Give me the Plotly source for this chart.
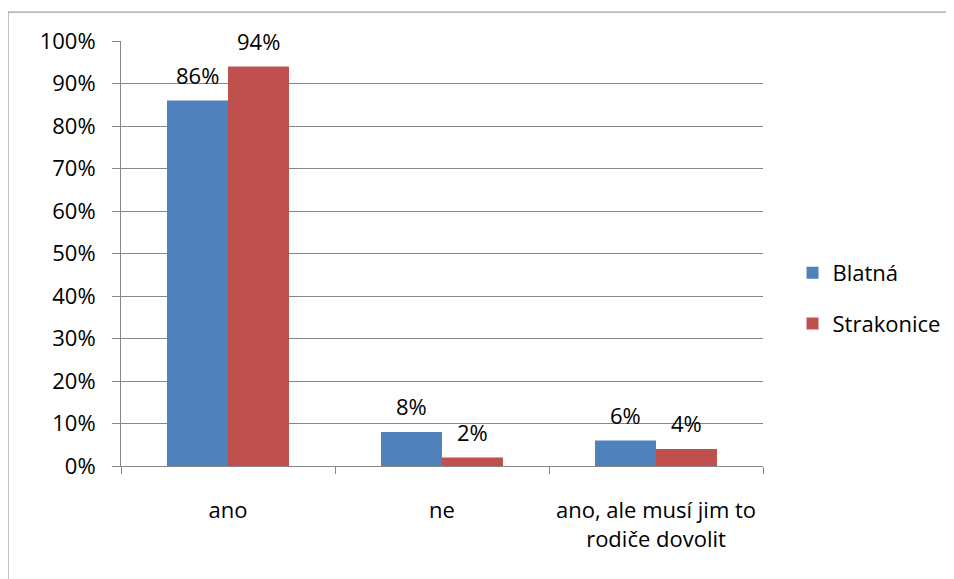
import plotly.graph_objects as go

categories = ["ano", "ne", "ano, ale musí jim to<br>rodiče dovolit"]
blatna = [0.86, 0.08, 0.06]
strakonice = [0.94, 0.02, 0.04]
blatna_labels = ["86%", "8%", "6%"]
strakonice_labels = ["94%", "2%", "4%"]

font_family = "Open Sans, sans-serif"

fig = go.Figure()
fig.add_trace(go.Bar(x=categories, y=blatna, name="Blatná", marker_color="#4F81BD",
                     legendgroup="b", marker_line_width=0))
fig.add_trace(go.Bar(x=categories, y=strakonice, name="Strakonice", marker_color="#C0504D",
                     legendgroup="s", marker_line_width=0))

# data labels above the bars
for vals, labels, shift in [(blatna, blatna_labels, -30.5), (strakonice, strakonice_labels, 30.5)]:
    for cat, v, lab in zip(categories, vals, labels):
        fig.add_annotation(x=cat, y=v, text=lab, showarrow=False, xshift=shift, yshift=26,
                           yanchor="middle", font=dict(size=22, color="#000000"))

fig.update_layout(
    width=946, height=571,
    margin=dict(l=113, r=191, t=33, b=113, autoexpand=False),
    paper_bgcolor="white", plot_bgcolor="white",
    font=dict(family=font_family, size=22, color="#000000"),
    barmode="group", bargap=0.43, bargroupgap=0,
    legend=dict(x=1.046, y=0.394, xanchor="left", yanchor="middle",
                font=dict(size=22), tracegroupgap=19, itemsizing="constant"),
    shapes=[dict(type="rect", xref="paper", yref="paper", x0=-0.176, y0=-0.4, x1=1.4, y1=1.068,
                 line=dict(color="#868686", width=1))],
)
fig.update_xaxes(showline=True, linecolor="#868686", linewidth=1, ticks="outside",
                 tickson="boundaries", ticklen=7, tickcolor="#868686", showgrid=False,
                 ticklabelstandoff=25)
fig.update_yaxes(range=[0, 1], dtick=0.1, tickformat=".0%", showline=True, linecolor="#868686",
                 linewidth=1, ticks="outside", ticklen=8, tickcolor="#868686",
                 showgrid=True, gridcolor="#868686", gridwidth=1, zeroline=False,
                 ticklabelstandoff=12)

fig.write_html("out.html")
